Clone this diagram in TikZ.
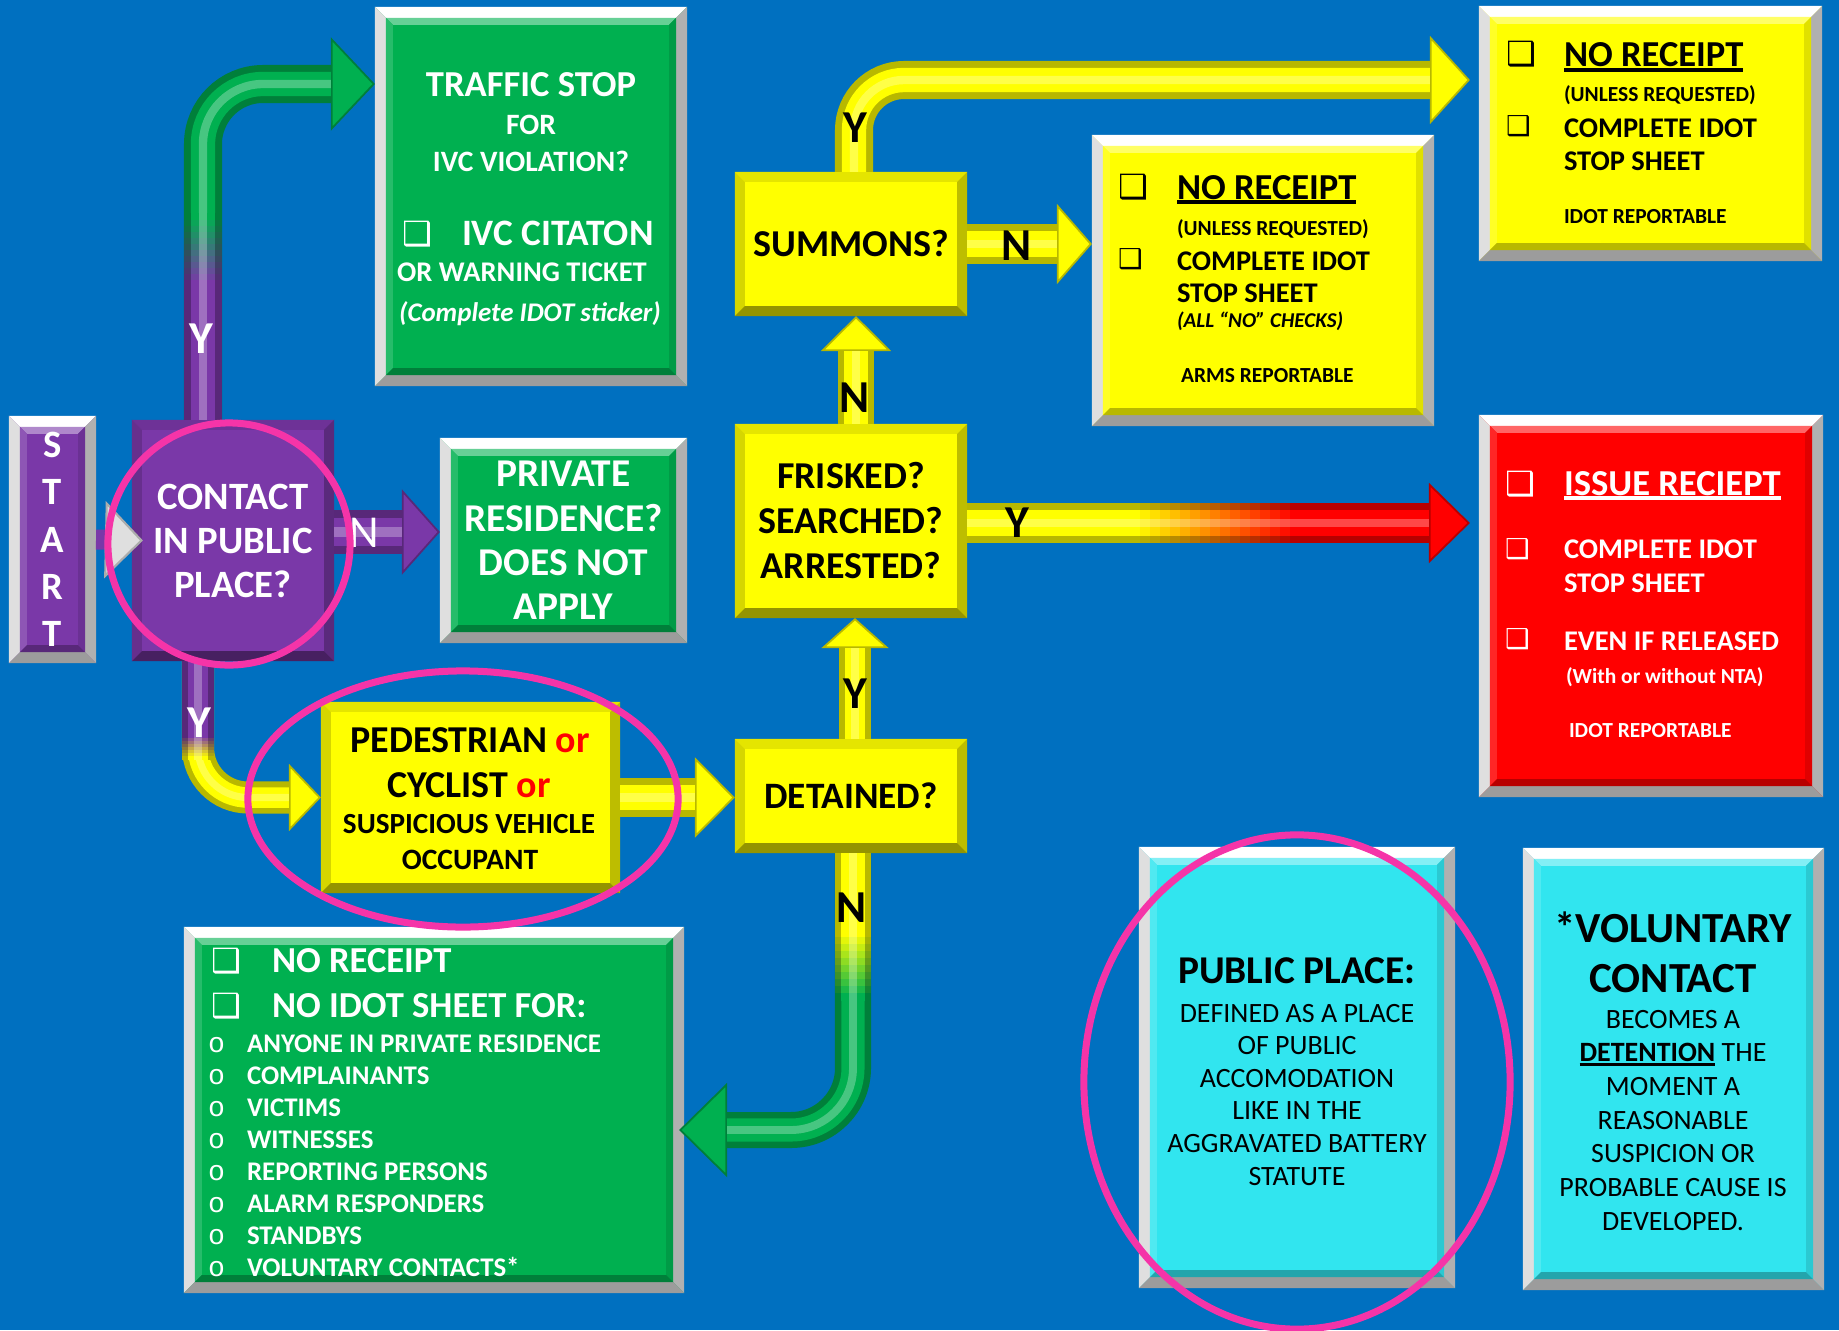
\documentclass[tikz,border=0pt]{standalone}
\usepackage{fontspec}
\setmainfont{Carlito}
\newfontfamily\symf{DejaVu Sans}
\newfontfamily\monof{Liberation Mono}
\usetikzlibrary{arrows.meta,calc}

\definecolor{bgblue}{HTML}{0070C0}
\definecolor{grn}{HTML}{00B050}
\definecolor{ylw}{HTML}{FFFF00}
\definecolor{rd}{HTML}{FF0000}
\definecolor{cyn}{HTML}{31E5EF}
\definecolor{purp}{RGB}{122,56,168}
\definecolor{ring}{RGB}{245,52,168}

\newcommand\fs[1]{\fontsize{#1}{#1}\selectfont}
\newcommand\chk{{\symf ❑}}
\newcommand\ul[1]{\setbox0\hbox{#1}\rlap{\rule[-1.3pt]{\wd0}{0.9pt}}\box0}

% corners of the box being filled
\newcommand\cornerpts{%
  \coordinate (pNW) at (path picture bounding box.north west);
  \coordinate (pNE) at (path picture bounding box.north east);
  \coordinate (pSW) at (path picture bounding box.south west);
  \coordinate (pSE) at (path picture bounding box.south east);}
% one bevel ring: inset, width, top, left, right, bottom
\newcommand\bevring[6]{%
  \fill[#3] ([shift={(#1,-#1)}]pNW) -- ([shift={(-#1,-#1)}]pNE) -- ([shift={(-#1-#2,-#1-#2)}]pNE) -- ([shift={(#1+#2,-#1-#2)}]pNW) -- cycle;
  \fill[#4] ([shift={(#1,-#1)}]pNW) -- ([shift={(#1+#2,-#1-#2)}]pNW) -- ([shift={(#1+#2,#1+#2)}]pSW) -- ([shift={(#1,#1)}]pSW) -- cycle;
  \fill[#5] ([shift={(-#1,-#1)}]pNE) -- ([shift={(-#1,#1)}]pSE) -- ([shift={(-#1-#2,#1+#2)}]pSE) -- ([shift={(-#1-#2,-#1-#2)}]pNE) -- cycle;
  \fill[#6] ([shift={(#1,#1)}]pSW) -- ([shift={(#1+#2,#1+#2)}]pSW) -- ([shift={(-#1-#2,#1+#2)}]pSE) -- ([shift={(-#1,#1)}]pSE) -- cycle;}

% 3d tube connectors
\newcommand\tubeline[4][]{%
  \draw[#1, line width=#3, #2!72!black] #4;
  \draw[#1, line width=0.64*#3, #2] #4;
  \draw[#1, line width=0.22*#3, #2!72!white] #4;}
\newcommand\tube[6][]{%
  \draw[#1, line width=#3, #2!72!black, -{Triangle[length=#4, width=#5, fill=#2, line width=0.5pt]}] #6;
  \draw[#1, line width=0.64*#3, #2, shorten >=#4] #6;
  \draw[#1, line width=0.22*#3, #2!72!white, shorten >=#4] #6;}

\tikzset{
  panel/.style={rectangle, inner sep=0pt, outer sep=0pt, fill=#1,
    path picture={\cornerpts
      \bevring{0cm}{0.11cm}{white}{gray!25}{gray!62}{gray!78}
      \bevring{0.11cm}{0.07cm}{#1!60!white}{#1!85!white}{#1!88!black}{#1!72!black}}},
  decbox/.style={rectangle, inner sep=0pt, outer sep=0pt, fill=#1,
    path picture={\cornerpts
      \bevring{0cm}{0.1cm}{#1!90!black}{#1!84!black}{#1!74!black}{#1!58!black}}},
  tx/.style={inner sep=0pt, outer sep=0pt, anchor=base},
  txl/.style={tx, anchor=base west},
  lblw/.style={tx, text=white, font=\bfseries\fs{13}},
  lblb/.style={tx, text=black, font=\bfseries\fs{13}},
}

\begin{document}
\begin{tikzpicture}[x=0.01cm, y=-0.01cm]
\fill[bgblue] (0,0) rectangle (1839,1330);
\useasboundingbox (0,0) rectangle (1839,1330);

% boxes
\node[panel=purp, minimum width=0.87cm, minimum height=2.47cm, text=white, align=center,
  font=\bfseries\fontsize{11}{13.45}\selectfont] (start) at (52.5,539.5) {S\\T\\A\\R\\T};
\node[decbox=purp, minimum width=2.02cm, minimum height=2.41cm, text=white, align=center,
  font=\bfseries\fontsize{11}{12.5}\selectfont] (contact) at (233,540.5) {CONTACT\\IN PUBLIC\\PLACE?};
\node[panel=grn, minimum width=3.12cm, minimum height=3.79cm] (traffic) at (531,196.5) {};
\node[panel=grn, minimum width=2.47cm, minimum height=2.05cm, text=white, align=center,
  font=\bfseries\fontsize{11.2}{12.6}\selectfont] (private) at (563.5,540.5) {PRIVATE\\RESIDENCE?\\DOES NOT\\APPLY};
\node[decbox=ylw, minimum width=2.32cm, minimum height=1.44cm,
  font=\bfseries\fs{10.8}] (summons) at (851,244) {SUMMONS?};
\node[decbox=ylw, minimum width=2.32cm, minimum height=1.94cm, align=center,
  font=\bfseries\fontsize{10.8}{12.8}\selectfont] (frisked) at (851,521) {FRISKED?\\SEARCHED?\\ARRESTED?};
\node[decbox=ylw, minimum width=2.32cm, minimum height=1.14cm,
  font=\bfseries\fs{10.6}] (detained) at (851,796) {DETAINED?};
\node[decbox=ylw, minimum width=2.99cm, minimum height=1.91cm] (ped) at (470.5,797.5) {};
\node[panel=ylw, minimum width=3.42cm, minimum height=2.91cm] (arms) at (1263,280.5) {};
\node[panel=ylw, minimum width=3.43cm, minimum height=2.55cm] (idot) at (1650.5,133.5) {};
\node[panel=rd, minimum width=3.44cm, minimum height=3.82cm] (issue) at (1651,606) {};
\node[panel=grn, minimum width=5cm, minimum height=3.66cm] (noreceipt) at (434,1110) {};
\node[panel=cyn, minimum width=3.16cm, minimum height=4.41cm] (public) at (1297,1067.5) {};
\node[panel=cyn, minimum width=3.01cm, minimum height=4.42cm] (voluntary) at (1673.5,1069) {};

% connectors
\tube[rounded corners=0.6cm]{grn}{0.38cm}{0.44cm}{0.93cm}{($(contact.north)+(-30,0)$) |- ($(traffic.west)+(0,-112.5)$)}
\tubeline{purp}{0.38cm}{(203,420) -- (203,285)}
\foreach \k in {0,...,11}{\pgfmathsetmacro\p{100-100*\k/11}
  \tubeline{purp!\p!grn}{0.38cm}{(203,{286-6*\k}) -- (203,{279-6*\k})}}

\tube{purp}{0.43cm}{0.38cm}{0.85cm}{($(contact.east)+(0,-8.5)$) -- ($(private.west)+(0,-8.5)$)}

\tube[rounded corners=0.5cm]{ylw}{0.32cm}{0.32cm}{0.67cm}{($(contact.south)+(-35,0)$) |- (ped.west)}
\tubeline{purp}{0.32cm}{(198,661) -- (198,736)}
\foreach \k in {0,...,7}{\pgfmathsetmacro\p{100-100*\k/7}
  \tubeline{purp!\p!ylw}{0.32cm}{(198,{735+3*\k}) -- (198,{739+3*\k})}}

\tube{ylw}{0.38cm}{0.4cm}{0.8cm}{(ped.east) -- (ped.east -| detained.west)}
\tube{ylw}{0.32cm}{0.3cm}{0.67cm}{($(detained.north)+(4,0)$) -- ($(frisked.south)+(4,0)$)}
\tube{ylw}{0.36cm}{0.35cm}{0.7cm}{($(frisked.north)+(5,0)$) -- ($(summons.south)+(5,0)$)}
\tube[rounded corners=0.5cm]{ylw}{0.38cm}{0.4cm}{0.88cm}{($(summons.north)+(3,0)$) |- ($(idot.west)+(-9,-53.5)$)}
\tube{ylw}{0.4cm}{0.35cm}{0.8cm}{(summons.east) -- (summons.east -| arms.west)}

\tube{rd}{0.4cm}{0.41cm}{0.8cm}{($(frisked.east)+(0,2)$) -- ($(frisked.east -| issue.west)+(-9,2)$)}
\tubeline{ylw}{0.4cm}{(967,523) -- (1131,523)}
\foreach \k in {0,...,16}{\pgfmathsetmacro\p{100-100*\k/16}
  \tubeline{ylw!\p!rd}{0.4cm}{({1130+10*\k},523) -- ({1141+10*\k},523)}}

\tube[rounded corners=0.62cm]{grn}{0.36cm}{0.48cm}{0.94cm}{($(detained.south)+(2,0)$) |- ($(noreceipt.east)+(-5,20)$)}
\tubeline{ylw}{0.36cm}{(853,853) -- (853,931)}
\foreach \k in {0,...,9}{\pgfmathsetmacro\p{100-100*\k/9}
  \tubeline{ylw!\p!grn}{0.36cm}{(853,{930+7*\k}) -- (853,{938+7*\k})}}

\draw[line width=0.2cm, purp, -{Triangle[length=0.38cm, width=0.77cm, fill=gray!25, color=gray!65, line width=0.6pt]}]
  (start.east) -- ($(contact.west)+(11,0)$);

% arrow labels
\node[lblw] (y1) at (201,353) {Y};
\node[lblw, font=\fs{13}] (n1) at (364,547) {N};
\node[lblw] (y2) at (199,737) {Y};
\node[lblb] (y3) at (855,142) {Y};
\node[lblb] (n2) at (1017,260) {N};
\node[lblb] (n3) at (855,412) {N};
\node[lblb] (y4) at (1017,537) {Y};
\node[lblb] (y5) at (855,708) {Y};
\node[lblb] (n4) at (852,922) {N};

% traffic stop
\node[tx, text=white, font=\bfseries\fs{10.4}] (ts1) at (531,96) {TRAFFIC STOP};
\node[tx, text=white, font=\bfseries\fs{8.4}] (ts2) at (531,134) {FOR};
\node[tx, text=white, font=\bfseries\fs{8.4}] (ts3) at (531,171) {IVC VIOLATION?};
\node[txl, text=white, font=\fs{9.5}] (ts4) at (402,245) {\chk};
\node[txl, text=white, font=\bfseries\fs{10.6}] (ts5) at (462,245) {IVC CITATON};
\node[tx, text=white, font=\bfseries\fs{8.1}] (ts6) at (522,281) {OR WARNING TICKET};
\node[tx, text=white, font=\bfseries\itshape\fs{7.65}] (ts7) at (530,321) {(Complete IDOT sticker)};

% summons N box
\node[txl, font=\fs{9.5}] (ar0) at (1118,198) {\chk};
\node[txl, font=\bfseries\fs{10.4}] (ar1) at (1177,199) {\ul{NO RECEIPT}};
\node[txl, font=\bfseries\fs{6.1}] (ar2) at (1177,235) {(UNLESS REQUESTED)};
\node[txl, font=\fs{7.8}] (ar3) at (1118,268) {\chk};
\node[txl, font=\bfseries\fs{8.1}] (ar4) at (1177,270) {COMPLETE IDOT};
\node[txl, font=\bfseries\fs{8.1}] (ar5) at (1177,302) {STOP SHEET};
\node[txl, font=\bfseries\itshape\fs{6}] (ar6) at (1177,327) {(ALL “NO” CHECKS)};
\node[txl, font=\bfseries\fs{6.1}] (ar7) at (1181,382) {ARMS REPORTABLE};

% summons Y box
\node[txl, font=\fs{9.5}] (id0) at (1506,65) {\chk};
\node[txl, font=\bfseries\fs{10.4}] (id1) at (1564,67) {\ul{NO RECEIPT}};
\node[txl, font=\bfseries\fs{6.1}] (id2) at (1564,101) {(UNLESS REQUESTED)};
\node[txl, font=\fs{7.8}] (id3) at (1506,135) {\chk};
\node[txl, font=\bfseries\fs{8.1}] (id4) at (1564,137) {COMPLETE IDOT};
\node[txl, font=\bfseries\fs{8.1}] (id5) at (1564,170) {STOP SHEET};
\node[txl, font=\bfseries\fs{6.1}] (id6) at (1564,223) {IDOT REPORTABLE};

% issue receipt
\node[txl, text=white, font=\fs{9.5}] (is0) at (1505,495) {\chk};
\node[txl, text=white, font=\bfseries\fs{10.4}] (is1) at (1564,495) {\ul{ISSUE RECIEPT}};
\node[txl, text=white, font=\fs{7.8}] (is2) at (1505,558) {\chk};
\node[txl, text=white, font=\bfseries\fs{8.1}] (is3) at (1564,558) {COMPLETE IDOT};
\node[txl, text=white, font=\bfseries\fs{8.1}] (is4) at (1564,592) {STOP SHEET};
\node[txl, text=white, font=\fs{7.8}] (is5) at (1505,648) {\chk};
\node[txl, text=white, font=\bfseries\fs{8.1}] (is6) at (1564,650) {EVEN IF RELEASED};
\node[txl, text=white, font=\bfseries\fs{6.1}] (is7) at (1566,683) {(With or without NTA)};
\node[txl, text=white, font=\bfseries\fs{6.1}] (is8) at (1569,737) {IDOT REPORTABLE};

% pedestrian
\node[tx, font=\bfseries\fs{10.8}] (pd1) at (470,752) {PEDESTRIAN \textcolor{rd}{or}};
\node[tx, font=\bfseries\fs{10.8}] (pd2) at (469,797) {CYCLIST \textcolor{rd}{or}};
\node[tx, font=\bfseries\fs{8.3}] (pd3) at (469,833) {SUSPICIOUS VEHICLE};
\node[tx, font=\bfseries\fs{8.4}] (pd4) at (470,869) {OCCUPANT};

% no receipt list
\node[txl, text=white, font=\fs{9.5}] (nr0) at (211,972) {\chk};
\node[txl, text=white, font=\bfseries\fs{10.4}] (nr1) at (272,972) {NO RECEIPT};
\node[txl, text=white, font=\fs{9.5}] (nr2) at (211,1017) {\chk};
\node[txl, text=white, font=\bfseries\fs{10.4}] (nr3) at (272,1017) {NO IDOT SHEET FOR:};
\foreach \t [count=\i from 0] in {ANYONE IN PRIVATE RESIDENCE, COMPLAINANTS, VICTIMS, WITNESSES,
    REPORTING PERSONS, ALARM RESPONDERS, STANDBYS, VOLUNTARY CONTACTS*}{
  \node[txl, text=white, font=\monof\fs{8}] (nb\i) at (208,{1052+32.1*\i}) {o};
  \node[txl, text=white, font=\bfseries\fs{7.65}] (ni\i) at (247,{1052+32.1*\i}) {\t};
}

% public place
\node[tx, font=\bfseries\fs{11.2}] (pp0) at (1297,983) {PUBLIC PLACE:};
\foreach \t [count=\i] in {DEFINED AS A PLACE, OF PUBLIC, ACCOMODATION, LIKE IN THE,
    AGGRAVATED BATTERY, STATUTE}
  \node[tx, font=\fs{7.95}] (pp\i) at (1297,{1022+32.6*(\i-1)}) {\t};

% voluntary contact
\node[tx, font=\bfseries\fs{12.2}] (vc0) at (1673,942) {*VOLUNTARY};
\node[tx, font=\bfseries\fs{12.2}] (vc1) at (1673,992) {CONTACT};
\foreach \t [count=\i from 2] in {BECOMES A, {{\bfseries\ul{DETENTION}} THE}, MOMENT A, REASONABLE,
    SUSPICION OR, PROBABLE CAUSE IS, DEVELOPED.}
  \node[tx, font=\fs{7.95}] (vc\i) at (1673,{1028+33.7*(\i-2)}) {\t};

% rings
\draw[ring, line width=0.07cm] (229,544) ellipse [x radius=1.21cm, y radius=1.21cm];
\draw[ring, line width=0.07cm] (463,799) ellipse [x radius=2.15cm, y radius=1.28cm];
\draw[ring, line width=0.07cm] (1297,1082) ellipse [x radius=2.13cm, y radius=2.47cm];
\end{tikzpicture}
\end{document}
